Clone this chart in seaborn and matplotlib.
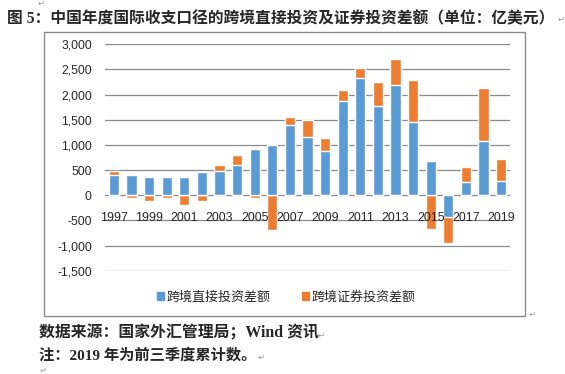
import numpy as np
import matplotlib
matplotlib.use("Agg")
import matplotlib.pyplot as plt
import seaborn as sns
from matplotlib.patches import Rectangle, Patch

# data (亿美元)
years = list(range(1997, 2020))
direct = [400, 410, 370, 370, 370, 470, 490, 610, 910, 1000, 1390, 1150,
          870, 1870, 2330, 1770, 2190, 1450, 690, -430, 270, 1070, 290]
portfolio = [90, -50, -110, -50, -190, -110, 120, 180, -50, -690, 160, 340,
             270, 230, 190, 480, 510, 840, -670, -510, 300, 1070, 440]
label_years = [str(y) if y % 2 == 1 else "" for y in years]
yticks = list(range(-1500, 3001, 500))

blue = "#5B9BD5"
orange = "#ED7D31"
grid_c = "#8A8A8A"

sns.set_style("white")
plt.rcParams["font.family"] = ["Liberation Sans", "Noto Sans CJK SC", "DejaVu Sans"]

fig = plt.figure(figsize=(5.65, 3.74), dpi=100)
ax = fig.add_axes([105 / 565, 1 - 270.7 / 374, 405 / 565, (270.7 - 44.3) / 374])

d = np.array(direct)
p = np.array(portfolio)
# Excel-style stacking: orange sits on blue when same sign, otherwise from 0
same = np.sign(d) == np.sign(p)
orange_top = np.where(same, d + p, p)

sns.barplot(x=years, y=orange_top, color=orange, saturation=1, width=0.58,
            errorbar=None, ax=ax, zorder=3)
sns.barplot(x=years, y=direct, color=blue, saturation=1, width=0.58,
            errorbar=None, ax=ax, zorder=4)

ax.set_ylim(-1500, 3000)
ax.set_xlim(-0.5, len(years) - 0.5)
ax.set_yticks(yticks)
ax.set_yticklabels([f"{v:,}" for v in yticks], fontsize=8.7)
ax.yaxis.grid(True, color=grid_c, lw=0.9)
ax.set_axisbelow(True)
ax.set_xticks([])
ax.set_xlabel("")
ax.set_ylabel("")
ax.tick_params(axis="y", length=0, pad=9.5)
for s in ax.spines.values():
    s.set_visible(False)

# category labels sit just under the zero line (Excel "next to axis")
for i, lab in enumerate(label_years):
    if lab:
        ax.annotate(lab, (i, 0), xytext=(0, -26), textcoords="offset pixels",
                    ha="center", va="baseline", fontsize=8.9, zorder=5)

# legend
handles = [Patch(color=blue, label="跨境直接投资差额"),
           Patch(color=orange, label="跨境证券投资差额")]
fig.legend(handles=handles, loc="center", bbox_to_anchor=(286 / 565, 1 - 297.5 / 374),
           ncol=2, frameon=False, handlelength=0.55, handleheight=0.55,
           handletextpad=0.2, columnspacing=2.4,
           prop={"family": ["Noto Sans CJK SC"], "size": 9.4})

# chart frame
fig.add_artist(Rectangle((44 / 565, 1 - 316 / 374), 481 / 565, 284 / 374,
                         transform=fig.transFigure, fill=False,
                         edgecolor="#8C8C8C", lw=1))

serif_cjk = ["Liberation Serif", "Noto Sans CJK SC"]
fig.text(7 / 565, 1 - 19 / 374,
         "图 5：中国年度国际收支口径的跨境直接投资及证券投资差额（单位：亿美元）",
         family=serif_cjk, fontweight="bold", fontsize=11.3, va="center", ha="left")
fig.text(39 / 565, 1 - 333 / 374, "数据来源：国家外汇管理局；Wind 资讯",
         family=serif_cjk, fontweight="bold", fontsize=11.4, va="center", ha="left")
fig.text(39 / 565, 1 - 355 / 374, "注：2019 年为前三季度累计数。",
         family=serif_cjk, fontweight="bold", fontsize=11, va="center", ha="left")

# word paragraph marks
marks = [(558, 19), (529, 314), (318, 335), (258, 357), (40, 370), (38, 3)]
for mx, my in marks:
    fig.text(mx / 565, 1 - my / 374, "↵", family=["DejaVu Sans"], fontsize=6,
             color="#9A9A9A", va="center", ha="left")

fig.savefig("out.png", dpi=100)
